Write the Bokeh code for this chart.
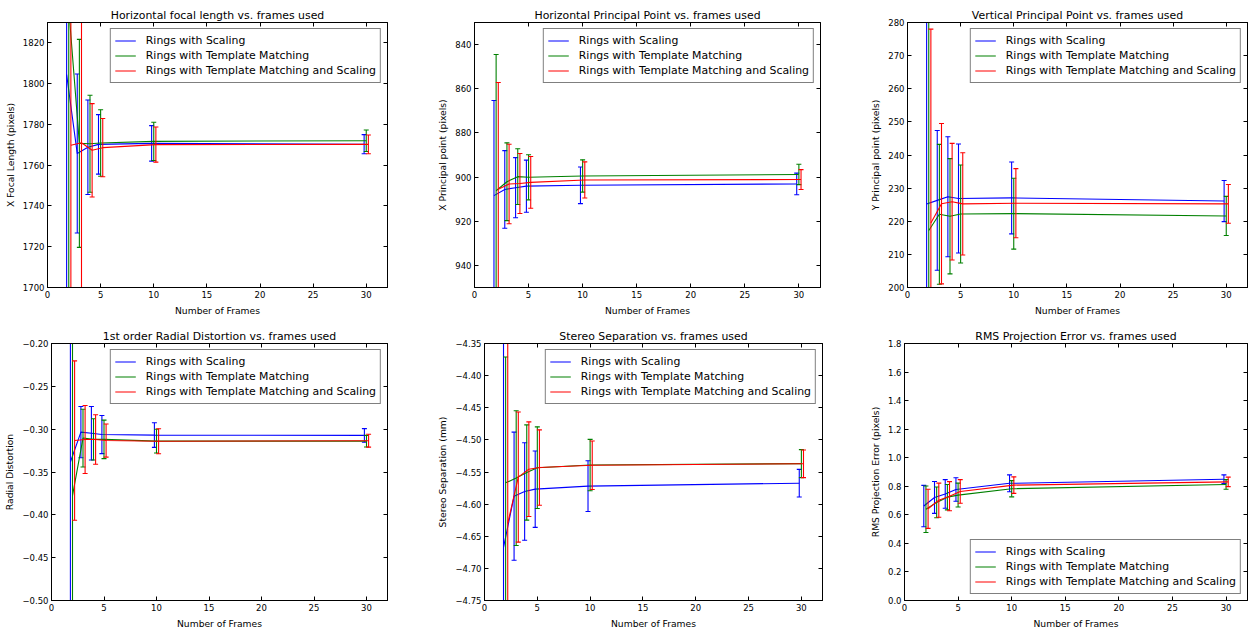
from bokeh.plotting import figure
from bokeh.models import (Range1d, FixedTicker, LinearAxis, Legend, LegendItem,
                          ColumnDataSource, CustomJSTickFormatter)
from bokeh.layouts import column, row
from bokeh.embed import file_html
from bokeh.resources import INLINE

# ---------------- data ----------------
frames = [2, 3, 4, 5, 10, 30]
series_names = ["Rings with Scaling", "Rings with Template Matching",
                "Rings with Template Matching and Scaling"]

# Horizontal focal length
scaling_fx = [1804.5, 1765.7, 1768.8, 1770.2, 1770.7, 1770.3]
scaling_fx_err = [160, 39.0, 23.2, 14.6, 8.7, 4.7]
tm_fx = [1837.0, 1770.7, 1770.5, 1770.9, 1771.7, 1772.0]
tm_fx_err = [200, 51.0, 23.8, 16.3, 9.4, 5.3]
tmscale_fx = [1769.8, 1771.0, 1767.3, 1768.6, 1770.1, 1770.2]
tmscale_fx_err = [150, 150, 22.9, 14.3, 8.6, 4.6]

# Horizontal principal point
scaling_cx = [908.4, 905.6, 904.8, 904.1, 903.7, 903.1]
scaling_cx_err = [43.1, 17.6, 13.6, 11.8, 8.3, 4.9]
tm_cx = [906.2, 902.1, 899.8, 900.1, 899.5, 898.8]
tm_cx_err = [61.7, 17.6, 12.6, 10.2, 7.3, 4.6]
tmscale_cx = [905.5, 903.1, 902.9, 902.4, 901.3, 901.1]
tmscale_cx_err = [48.3, 18.0, 13.6, 11.7, 8.2, 4.5]

# Vertical principal point
scaling_cy = [225.2, 226.3, 227.4, 226.85, 227.05, 226.1]
scaling_cy_err = [70, 21.1, 18.1, 16.45, 10.85, 6.2]
tm_cy = [217.2, 222.1, 221.5, 222.2, 222.3, 221.6]
tm_cy_err = [75, 21.1, 17.4, 14.8, 10.7, 5.9]
tmscale_cy = [219.5, 225.3, 225.9, 225.25, 225.45, 225.25]
tmscale_cy_err = [58.5, 24.2, 17.6, 15.45, 10.45, 5.85]

# 1st order radial distortion
scaling_k1 = [-0.3383, -0.3035, -0.3048, -0.3063, -0.3069, -0.3073]
scaling_k1_err = [0.2, 0.0299, 0.0312, 0.0223, 0.0144, 0.0079]
tm_k1 = [-0.3776, -0.3104, -0.3119, -0.3119, -0.3140, -0.3140]
tm_k1_err = [0.25, 0.0337, 0.0241, 0.0225, 0.0139, 0.0068]
tmscale_k1 = [-0.3133, -0.3121, -0.3121, -0.3133, -0.3141, -0.3135]
tmscale_k1_err = [0.093, 0.0397, 0.0289, 0.0193, 0.0146, 0.0075]

# Stereo separation
scaling_b = [-4.6674, -4.5877, -4.5803, -4.5767, -4.5720, -4.5674]
scaling_b_err = [0.4, 0.0997, 0.0759, 0.0595, 0.0395, 0.0215]
tm_b = [-4.5669, -4.5595, -4.5508, -4.5433, -4.5392, -4.5369]
tm_b_err = [0.196, 0.1049, 0.0741, 0.0636, 0.0400, 0.0218]
tmscale_b = [-4.63, -4.5579, -4.5456, -4.5431, -4.5395, -4.5372]
tmscale_b_err = [0.5, 0.1013, 0.0736, 0.0587, 0.0377, 0.0215]

# RMS projection error
scaling_rms = [0.6615, 0.7216, 0.7461, 0.7773, 0.8207, 0.8497]
scaling_rms_err = [0.1448, 0.1114, 0.1002, 0.0824, 0.0590, 0.0300]
tm_rms = [0.6392, 0.6871, 0.7238, 0.7383, 0.7828, 0.8129]
tm_rms_err = [0.1626, 0.1080, 0.0891, 0.0835, 0.0568, 0.0334]
tmscale_rms = [0.6425, 0.7027, 0.7305, 0.7639, 0.8080, 0.8307]
tmscale_rms_err = [0.1370, 0.1192, 0.1024, 0.0824, 0.0580, 0.0334]

# ticks
x_ticks = [0, 5, 10, 15, 20, 25, 30]
fx_ticks = [1700, 1720, 1740, 1760, 1780, 1800, 1820]
fx_labels = ["1700", "1720", "1740", "1760", "1780", "1800", "1820"]
cx_ticks = [840, 860, 880, 900, 920, 940]
cx_labels = ["840", "860", "880", "900", "920", "940"]
cy_ticks = [200, 210, 220, 230, 240, 250, 260, 270, 280]
cy_labels = ["200", "210", "220", "230", "240", "250", "260", "270", "280"]
k1_ticks = [-0.50, -0.45, -0.40, -0.35, -0.30, -0.25, -0.20]
k1_labels = ["\u22120.50", "\u22120.45", "\u22120.40", "\u22120.35", "\u22120.30", "\u22120.25", "\u22120.20"]
b_ticks = [-4.75, -4.70, -4.65, -4.60, -4.55, -4.50, -4.45, -4.40, -4.35]
b_labels = ["\u22124.75", "\u22124.70", "\u22124.65", "\u22124.60", "\u22124.55", "\u22124.50",
            "\u22124.45", "\u22124.40", "\u22124.35"]
rms_ticks = [0.0, 0.2, 0.4, 0.6, 0.8, 1.0, 1.2, 1.4, 1.6, 1.8]
rms_labels = ["0.0", "0.2", "0.4", "0.6", "0.8", "1.0", "1.2", "1.4", "1.6", "1.8"]

# ---------------- styling ----------------
COLORS = ["#0000ff", "#008000", "#ff0000"]
OFFSETS = [-0.2, 0.0, 0.2]
FONT = "DejaVu Sans"
EMPTY = CustomJSTickFormatter(code="return ''")


def style_axis(ax):
    ax.major_tick_in = 4
    ax.major_tick_out = 0
    ax.minor_tick_in = 0
    ax.minor_tick_out = 0
    ax.axis_line_color = "black"
    ax.major_tick_line_color = "black"
    ax.major_label_text_font = FONT
    ax.major_label_text_font_size = "8.5px"
    ax.major_label_text_color = "black"
    ax.axis_label_text_font = FONT
    ax.axis_label_text_font_size = "9.2px"
    ax.axis_label_text_font_style = "normal"
    ax.axis_label_text_color = "black"


def panel(title, ylabel, y_start, y_end, yticks, ylabels, data, legend_loc,
          width, height, L, R, T, B):
    p = figure(width=width, height=height, output_backend="svg", toolbar_location=None,
               x_range=Range1d(0, 32), y_range=Range1d(y_start, y_end),
               min_border_left=L, min_border_right=R, min_border_top=T, min_border_bottom=B)
    p.title.text = title
    p.title.text_font = FONT
    p.title.text_font_size = "10.9px"
    p.title.text_font_style = "normal"
    p.title.text_color = "black"
    p.title.align = "center"
    p.title.standoff = 2
    p.xgrid.visible = False
    p.ygrid.visible = False
    p.outline_line_color = "black"
    p.outline_line_width = 1

    p.xaxis.ticker = FixedTicker(ticks=x_ticks)
    p.yaxis.ticker = FixedTicker(ticks=yticks)
    p.yaxis.major_label_overrides = {t: l for t, l in zip(yticks, ylabels)}
    p.xaxis.axis_label = "Number of Frames"
    p.yaxis.axis_label = ylabel
    for ax in p.xaxis + p.yaxis:
        style_axis(ax)
        ax.major_label_standoff = 3
        ax.axis_label_standoff = 4

    top = LinearAxis(ticker=FixedTicker(ticks=x_ticks), formatter=EMPTY)
    right = LinearAxis(ticker=FixedTicker(ticks=yticks), formatter=EMPTY)
    for ax in (top, right):
        style_axis(ax)
        ax.major_label_standoff = 0
    p.add_layout(top, "above")
    p.add_layout(right, "right")

    items = []
    for (vals, errs), name, color, off in zip(data, series_names, COLORS, OFFSETS):
        xs = [f + off for f in frames]
        src = ColumnDataSource(dict(x=xs, y=vals,
                                    lo=[v - e for v, e in zip(vals, errs)],
                                    hi=[v + e for v, e in zip(vals, errs)]))
        ln = p.line(x="x", y="y", source=src, line_color=color, line_width=1.1)
        p.segment(x0="x", y0="lo", x1="x", y1="hi", source=src, line_color=color, line_width=1.1)
        p.scatter(x="x", y="lo", source=src, marker="dash", size=5, line_color=color, line_width=1.1)
        p.scatter(x="x", y="hi", source=src, marker="dash", size=5, line_color=color, line_width=1.1)
        items.append(LegendItem(label=name, renderers=[ln]))

    leg = Legend(items=items, location=legend_loc)
    leg.border_line_color = "black"
    leg.border_line_width = 1
    leg.background_fill_color = "white"
    leg.background_fill_alpha = 1
    leg.margin = 6
    leg.padding = 4
    leg.spacing = 0
    leg.label_height = 15
    leg.glyph_height = 15
    leg.glyph_width = 21
    leg.label_standoff = 10
    leg.label_text_font = FONT
    leg.label_text_font_size = "10.9px"
    leg.label_text_color = "black"
    p.add_layout(leg)
    return p


p1 = panel("Horizontal focal length vs. frames used", "X Focal Length (pixels)",
           1700, 1830, fx_ticks, fx_labels,
           [(scaling_fx, scaling_fx_err), (tm_fx, tm_fx_err), (tmscale_fx, tmscale_fx_err)],
           "top_right", 430, 318, 47, 43, 22, 31)
p2 = panel("Horizontal Principal Point vs. frames used", "X Principal point (pixels)",
           950, 830, cx_ticks, cx_labels,
           [(scaling_cx, scaling_cx_err), (tm_cx, tm_cx_err), (tmscale_cx, tmscale_cx_err)],
           "top_right", 418, 318, 44, 28, 21, 31)
p3 = panel("Vertical Principal Point vs. frames used", "Y Principal point (pixels)",
           200, 280, cy_ticks, cy_labels,
           [(scaling_cy, scaling_cy_err), (tm_cy, tm_cy_err), (tmscale_cy, tmscale_cy_err)],
           "top_right", 401, 318, 59, 2, 21, 31)
p4 = panel("1st order Radial Distortion vs. frames used", "Radial Distortion",
           -0.50, -0.20, k1_ticks, k1_labels,
           [(scaling_k1, scaling_k1_err), (tm_k1, tm_k1_err), (tmscale_k1, tmscale_k1_err)],
           "top_right", 430, 313, 51, 43, 25, 27)
p5 = panel("Stereo Separation vs. frames used", "Stereo Separation (mm)",
           -4.75, -4.35, b_ticks, b_labels,
           [(scaling_b, scaling_b_err), (tm_b, tm_b_err), (tmscale_b, tmscale_b_err)],
           "top_right", 418, 313, 54, 26, 25, 27)
p6 = panel("RMS Projection Error vs. frames used", "RMS Projection Error (pixels)",
           0.0, 1.8, rms_ticks, rms_labels,
           [(scaling_rms, scaling_rms_err), (tm_rms, tm_rms_err), (tmscale_rms, tmscale_rms_err)],
           "bottom_right", 401, 313, 56, 2, 20, 24)

layout = column(row(p1, p2, p3), row(p4, p5, p6))
open("out.html", "w").write(file_html(layout, INLINE))
